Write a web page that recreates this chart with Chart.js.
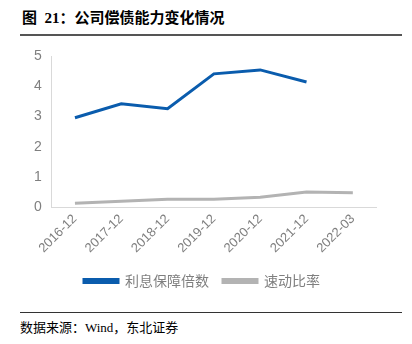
<!DOCTYPE html>
<html>
<head>
<meta charset="utf-8">
<script src="https://cdn.jsdelivr.net/npm/chart.js@4.4.0/dist/chart.umd.min.js"></script>
<style>
  html, body { margin: 0; padding: 0; background: #fff; }
  body { width: 412px; height: 344px; position: relative; overflow: hidden; font-family: "Noto Sans CJK SC", sans-serif; }
  #title { position: absolute; left: 22px; top: 6px; font-size: 15px; font-weight: bold; color: #000; font-family: "Liberation Serif", "Noto Sans CJK SC", serif; }
  #topRule { position: absolute; left: 20px; top: 34px; width: 382px; height: 2px; background: #555; }
  #wrap { position: absolute; left: 0; top: 40px; width: 412px; height: 258px; }
  #bottomRule { position: absolute; left: 20px; top: 312px; width: 382px; height: 1px; background: #333; }
  #source { position: absolute; left: 20px; top: 317px; font-size: 13px; color: #000; font-family: "Liberation Serif", "Noto Sans CJK SC", serif; }
</style>
</head>
<body>
<div id="title">图&nbsp; 21：公司偿债能力变化情况</div>
<div id="topRule"></div>
<div id="wrap"><canvas id="chart"></canvas></div>
<div id="bottomRule"></div>
<div id="source">数据来源：Wind，东北证券</div>
<script>
// 公司偿债能力
const periods = ["2016-12", "2017-12", "2018-12", "2019-12", "2020-12", "2021-12", "2022-03"];
const interestCover = [2.96, 3.42, 3.26, 4.41, 4.54, 4.14, null];
const quickRatio = [0.13, 0.2, 0.26, 0.26, 0.33, 0.5, 0.48];
const yTicks = [0, 1, 2, 3, 4, 5];

const tickColor = "#7f7f7f";

new Chart(document.getElementById("chart"), {
  type: "line",
  data: {
    labels: periods,
    datasets: [
      {
        label: "利息保障倍数",
        data: interestCover,
        borderColor: "#0a5cad",
        backgroundColor: "#0a5cad",
        borderWidth: 3,
        pointRadius: 0,
        tension: 0,
      },
      {
        label: "速动比率",
        data: quickRatio,
        borderColor: "#b3b3b3",
        backgroundColor: "#b3b3b3",
        borderWidth: 3,
        pointRadius: 0,
        tension: 0,
      },
    ],
  },
  options: {
    responsive: true,
    maintainAspectRatio: false,
    animation: false,
    layout: { padding: { left: 28, right: 36, top: 16, bottom: 0 } },
    plugins: {
      legend: {
        position: "bottom",
        labels: {
          boxWidth: 34,
          boxHeight: 3,
          color: tickColor,
          font: { size: 14, family: "Noto Sans CJK SC" },
          padding: 14,
        },
      },
      tooltip: { enabled: false },
    },
    scales: {
      x: {
        offset: true,
        grid: { display: false, drawTicks: false },
        border: { color: "#d9d9d9" },
        ticks: {
          color: tickColor,
          font: { size: 13, family: "Liberation Sans" },
          maxRotation: 45,
          minRotation: 45,
          padding: 4,
        },
      },
      y: {
        min: 0,
        max: 5,
        afterBuildTicks: axis => {
          axis.ticks = yTicks.map(v => ({ value: v }));
        },
        grid: { display: false, drawTicks: true, tickLength: 4, color: "#d9d9d9" },
        border: { color: "#d9d9d9" },
        ticks: {
          color: tickColor,
          font: { size: 14, family: "Liberation Sans" },
          padding: 6,
        },
      },
    },
  },
});
</script>
</body>
</html>
